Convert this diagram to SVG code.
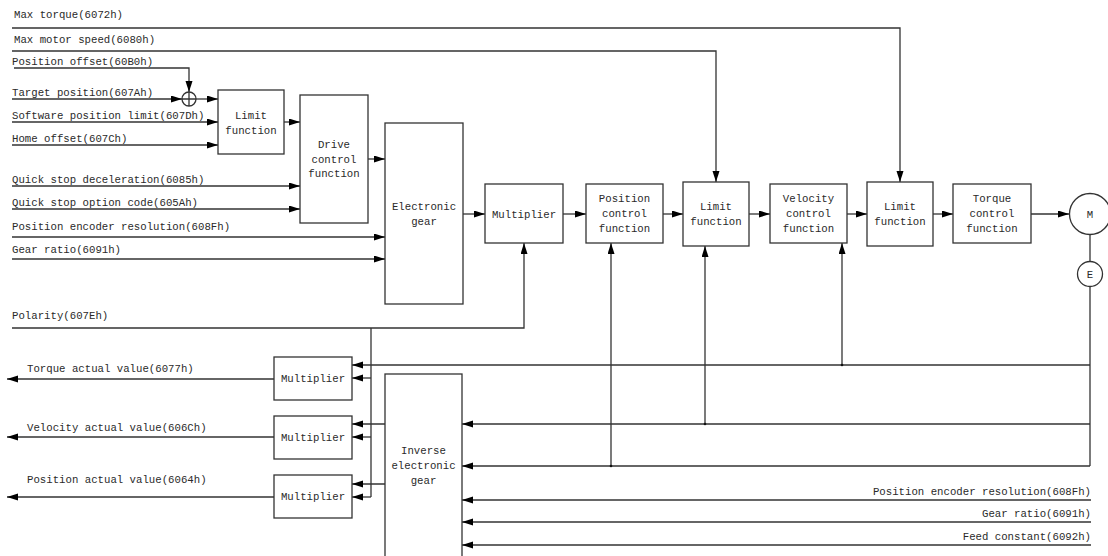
<svg xmlns="http://www.w3.org/2000/svg" width="1108" height="556" viewBox="0 0 1108 556">
  <style>
    .box { fill: #fff; stroke: #333; stroke-width: 1.3; }
    .ln { fill: none; stroke: #333; stroke-width: 1.3; }
    .ar { marker-end: url(#arrow); }
    text { font-family: "Liberation Mono", "DejaVu Sans Mono", monospace; font-size: 10.7px; fill: #2a2a2a; }
    .c { text-anchor: middle; }
    .e { text-anchor: end; }
    .dot { fill: #111; }
  </style>
  <defs>
    <marker id="arrow" markerUnits="userSpaceOnUse" markerWidth="12" markerHeight="8" refX="11" refY="3.5" orient="auto">
      <path d="M0,0 L11,3.5 L0,7 z" fill="#000"/>
    </marker>
  </defs>
  <rect width="1108" height="556" fill="#fff"/>

  <!-- signal labels -->
  <g id="labels">
    <text x="14" y="18">Max torque(6072h)</text>
    <text x="14" y="43">Max motor speed(6080h)</text>
    <text x="12" y="65">Position offset(60B0h)</text>
    <text x="12" y="96">Target position(607Ah)</text>
    <text x="12" y="119">Software position limit(607Dh)</text>
    <text x="12" y="142">Home offset(607Ch)</text>
    <text x="12" y="183">Quick stop deceleration(6085h)</text>
    <text x="12" y="206">Quick stop option code(605Ah)</text>
    <text x="12" y="230">Position encoder resolution(608Fh)</text>
    <text x="12" y="253">Gear ratio(6091h)</text>
    <text x="12" y="319">Polarity(607Eh)</text>
    <text x="27" y="372">Torque actual value(6077h)</text>
    <text x="27" y="431">Velocity actual value(606Ch)</text>
    <text x="27" y="483">Position actual value(6064h)</text>
    <text class="e" x="1091" y="495">Position encoder resolution(608Fh)</text>
    <text class="e" x="1091" y="517">Gear ratio(6091h)</text>
    <text class="e" x="1091" y="540">Feed constant(6092h)</text>
  </g>

  <!-- connectors -->
  <g id="connectors">
    <!-- limit inputs from the top -->
    <path class="ln ar" d="M12,28 H900 V182"/>
    <path class="ln ar" d="M12,51 H716 V182"/>
    <path class="ln ar" d="M14,68 H189 V92"/>
    <!-- left-hand inputs -->
    <path class="ln ar" d="M12,99 H182"/>
    <path class="ln ar" d="M196,99 H218"/>
    <path class="ln ar" d="M12,122 H218"/>
    <path class="ln ar" d="M12,145 H218"/>
    <path class="ln ar" d="M284,122 H300"/>
    <path class="ln ar" d="M12,186 H300"/>
    <path class="ln ar" d="M12,209 H300"/>
    <path class="ln ar" d="M368,159 H385"/>
    <path class="ln ar" d="M12,237 H385"/>
    <path class="ln ar" d="M12,259 H385"/>
    <!-- forward chain -->
    <path class="ln ar" d="M463,214 H485"/>
    <path class="ln ar" d="M563,214 H586"/>
    <path class="ln ar" d="M663,214 H683"/>
    <path class="ln ar" d="M749,214 H770"/>
    <path class="ln ar" d="M847,214 H867"/>
    <path class="ln ar" d="M933,214 H953"/>
    <path class="ln ar" d="M1031,214 H1069"/>
    <!-- motor / encoder -->
    <path class="ln" d="M1090,234.5 V261.5"/>
    <path class="ln" d="M1090,286.5 V466"/>
    <!-- feedback lines -->
    <path class="ln ar" d="M1090,365 H352"/>
    <path class="ln ar" d="M842,365 V243"/>
    <path class="ln ar" d="M1090,424 H462"/>
    <path class="ln ar" d="M705,424 V246"/>
    <path class="ln ar" d="M1090,466 H462"/>
    <path class="ln ar" d="M611,466 V243"/>
    <circle class="dot" cx="842" cy="365" r="1.3"/>
    <circle class="dot" cx="705" cy="424" r="1.3"/>
    <circle class="dot" cx="611" cy="466" r="1.3"/>
    <!-- inverse gear parameter inputs -->
    <path class="ln ar" d="M1091,500 H462"/>
    <path class="ln ar" d="M1091,522 H462"/>
    <path class="ln ar" d="M1091,545 H462"/>
    <!-- polarity -->
    <path class="ln ar" d="M12,328 H524 V243"/>
    <path class="ln" d="M371,328 V497"/>
    <path class="ln ar" d="M371,378 H352"/>
    <path class="ln ar" d="M371,437 H352"/>
    <path class="ln ar" d="M371,497 H352"/>
    <!-- inverse gear outputs -->
    <path class="ln ar" d="M385,424 H352"/>
    <path class="ln ar" d="M385,484 H352"/>
    <!-- actual value outputs -->
    <path class="ln ar" d="M274,379 H7"/>
    <path class="ln ar" d="M274,437 H7"/>
    <path class="ln ar" d="M274,497 H7"/>
  </g>

  <!-- summing junction -->
  <g id="sum">
    <circle class="box" cx="189" cy="99" r="7"/>
    <path class="ln" d="M182,99 H196 M189,92 V106"/>
  </g>

  <g id="limit1">
    <rect class="box" x="218" y="90" width="66" height="64"/>
    <text class="c" x="251" y="119">Limit</text>
    <text class="c" x="251" y="134">function</text>
  </g>

  <g id="drive-control">
    <rect class="box" x="300" y="95" width="68" height="128"/>
    <text class="c" x="334" y="148">Drive</text>
    <text class="c" x="334" y="163">control</text>
    <text class="c" x="334" y="177">function</text>
  </g>

  <g id="electronic-gear">
    <rect class="box" x="385" y="123" width="78" height="181"/>
    <text class="c" x="424" y="210">Electronic</text>
    <text class="c" x="424" y="225">gear</text>
  </g>

  <g id="multiplier">
    <rect class="box" x="485" y="184" width="78" height="59"/>
    <text class="c" x="524" y="218">Multiplier</text>
  </g>

  <g id="position-control">
    <rect class="box" x="586" y="184" width="77" height="59"/>
    <text class="c" x="624.5" y="202">Position</text>
    <text class="c" x="624.5" y="217">control</text>
    <text class="c" x="624.5" y="232">function</text>
  </g>

  <g id="limit2">
    <rect class="box" x="683" y="182" width="66" height="64"/>
    <text class="c" x="716" y="210">Limit</text>
    <text class="c" x="716" y="225">function</text>
  </g>

  <g id="velocity-control">
    <rect class="box" x="770" y="184" width="77" height="59"/>
    <text class="c" x="808.5" y="202">Velocity</text>
    <text class="c" x="808.5" y="217">control</text>
    <text class="c" x="808.5" y="232">function</text>
  </g>

  <g id="limit3">
    <rect class="box" x="867" y="182" width="66" height="64"/>
    <text class="c" x="900" y="210">Limit</text>
    <text class="c" x="900" y="225">function</text>
  </g>

  <g id="torque-control">
    <rect class="box" x="953" y="184" width="78" height="59"/>
    <text class="c" x="992" y="202">Torque</text>
    <text class="c" x="992" y="217">control</text>
    <text class="c" x="992" y="232">function</text>
  </g>

  <g id="motor">
    <circle class="box" cx="1090" cy="214" r="20.5"/>
    <text class="c" x="1090" y="218">M</text>
  </g>

  <g id="encoder">
    <circle class="box" cx="1090" cy="274" r="12.5"/>
    <text class="c" x="1090" y="278">E</text>
  </g>

  <g id="multiplier-torque">
    <rect class="box" x="274" y="357" width="78" height="43"/>
    <text class="c" x="313" y="382">Multiplier</text>
  </g>

  <g id="multiplier-velocity">
    <rect class="box" x="274" y="416" width="78" height="43"/>
    <text class="c" x="313" y="441">Multiplier</text>
  </g>

  <g id="multiplier-position">
    <rect class="box" x="274" y="475" width="78" height="43"/>
    <text class="c" x="313" y="500">Multiplier</text>
  </g>

  <g id="inverse-gear">
    <rect class="box" x="385" y="374" width="77" height="200"/>
    <text class="c" x="423.5" y="454">Inverse</text>
    <text class="c" x="423.5" y="469">electronic</text>
    <text class="c" x="423.5" y="484">gear</text>
  </g>
</svg>
